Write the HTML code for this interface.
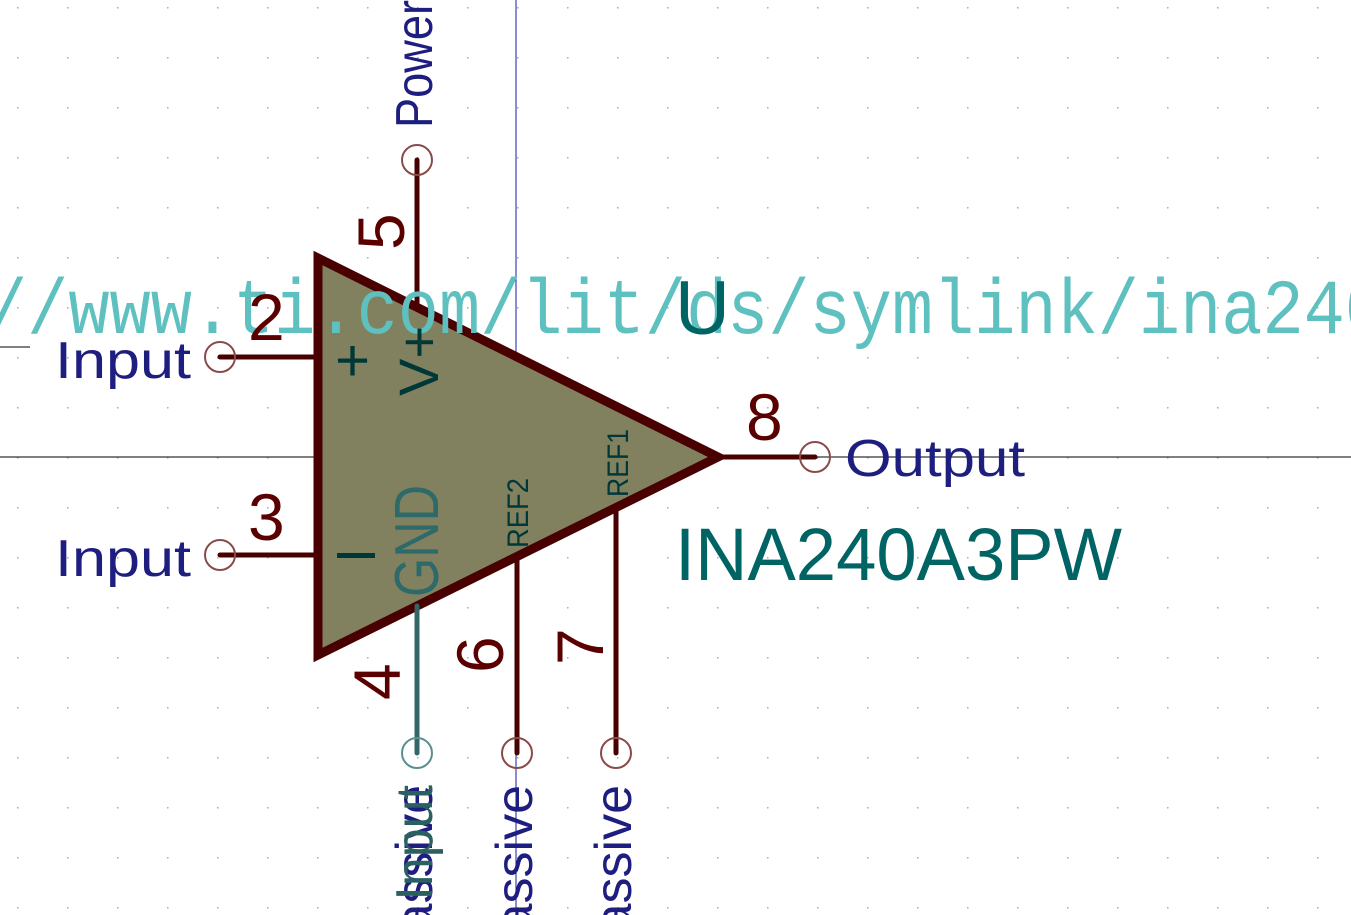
<!DOCTYPE html>
<html><head><meta charset="utf-8"><style>
html,body{margin:0;padding:0;background:#fff;overflow:hidden;width:1351px;height:915px;}
svg{display:block;}
text{font-family:"Liberation Sans",sans-serif;}
</style></head><body>
<svg width="1351" height="915" viewBox="0 0 1351 915">
<defs><pattern id="grid" x="17" y="7" width="50" height="50" patternUnits="userSpaceOnUse"><rect x="0" y="0" width="1.5" height="1.5" fill="#aaa"/></pattern>
<clipPath id="frame"><rect width="1351" height="915"/></clipPath></defs>
<g clip-path="url(#frame)">
<rect width="1351" height="915" fill="url(#grid)"/>
<line x1="516" y1="0" x2="516" y2="915" stroke="#1a1aa0" stroke-width="1"/>
<line x1="0" y1="457" x2="1351" y2="457" stroke="#000" stroke-width="1"/>
<line x1="0" y1="347" x2="30" y2="347" stroke="#000" stroke-width="1"/>

<polygon points="318,258 318,655 718,457" fill="#81815f" stroke="#480000" stroke-width="9" stroke-linejoin="miter"/>

<g stroke="#480000" stroke-width="5" stroke-linecap="round">
<line x1="417" y1="160" x2="417" y2="306"/>
<line x1="220" y1="357" x2="318" y2="357"/>
<line x1="220" y1="555" x2="318" y2="555"/>
<line x1="718" y1="457" x2="815" y2="457"/>
<line x1="517" y1="557" x2="517" y2="753"/>
<line x1="616" y1="508" x2="616" y2="753"/>
<line x1="417" y1="606" x2="417" y2="753" stroke="#336666"/>
</g>
<g fill="none" stroke="#8a4a4a" stroke-width="2">
<circle cx="417" cy="160" r="15"/>
<circle cx="220" cy="357" r="15"/>
<circle cx="220" cy="555" r="15"/>
<circle cx="815" cy="457" r="15"/>
<circle cx="517" cy="753" r="15"/>
<circle cx="616" cy="753" r="15"/>
<circle cx="417" cy="753" r="15" stroke="#5a9090"/>
</g>

<text x="-14" y="333" font-size="78" fill="#5fc0c0" textLength="1400" lengthAdjust="spacingAndGlyphs" style="font-family:'Liberation Mono',monospace">//www.ti.com/lit/ds/symlink/ina240</text>
<text x="675" y="334" font-size="76" fill="#006464">U</text>
<text x="675" y="580" font-size="74" fill="#006464" textLength="447" lengthAdjust="spacingAndGlyphs">INA240A3PW</text>

<g fill="#5a0000" font-size="66">
<text x="248" y="340">2</text>
<text x="248" y="540">3</text>
<text x="746" y="440">8</text>
<text transform="translate(404,250) rotate(-90)">5</text>
<text transform="translate(503,673) rotate(-90)">6</text>
<text transform="translate(603,665) rotate(-90)">7</text>
<text transform="translate(400,700) rotate(-90)">4</text>
</g>

<g fill="#1e1e80" font-size="52">
<text x="55" y="378" textLength="136" lengthAdjust="spacingAndGlyphs">Input</text>
<text x="55" y="576" textLength="136" lengthAdjust="spacingAndGlyphs">Input</text>
<text x="845" y="476" textLength="180" lengthAdjust="spacingAndGlyphs">Output</text>
<text transform="translate(432,128) rotate(-90)" textLength="128" lengthAdjust="spacingAndGlyphs">Power</text>
<text transform="translate(532,785) rotate(-90)" text-anchor="end">Passive</text>
<text transform="translate(631,785) rotate(-90)" text-anchor="end">Passive</text>
<text transform="translate(432,785) rotate(-90)" text-anchor="end">Passive</text>
<text transform="translate(432,785) rotate(-90)" text-anchor="end" fill="#2a6060">Input</text>
</g>

<g fill="#003838">
<text x="335" y="381" font-size="60">+</text>
<rect x="337" y="553" width="38" height="5" fill="#003838"/>
<text transform="translate(438,396) rotate(-90)" font-size="56">V+</text>
<text transform="translate(438,597) rotate(-90)" font-size="62" fill="#2f6a6a" textLength="112" lengthAdjust="spacingAndGlyphs">GND</text>
<text transform="translate(528,548) rotate(-90)" font-size="30" textLength="70" lengthAdjust="spacingAndGlyphs">REF2</text>
<text transform="translate(628,497) rotate(-90)" font-size="30" textLength="68" lengthAdjust="spacingAndGlyphs">REF1</text>
</g>
</g>
</svg>
</body></html>
